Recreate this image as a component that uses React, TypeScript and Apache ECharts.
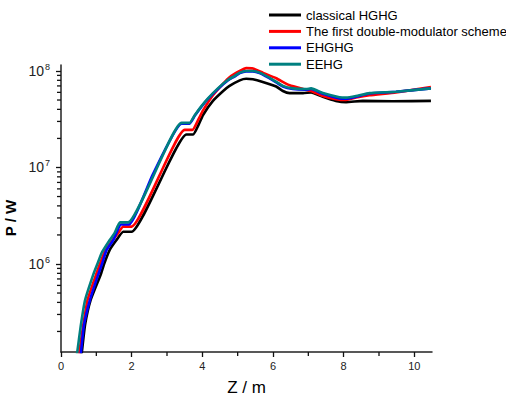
import React, { useEffect, useRef } from "react";
import * as echarts from "echarts";

// ---- data (z in m, P in W) ----
const seriesNames = [
  "classical HGHG",
  "The first double-modulator scheme",
  "EHGHG",
  "EEHG",
];
const seriesColors = ["#000000", "#ff0000", "#0000ff", "#008080"];

const hghg: [number, number][] = [
  [0.57, 1.1e5], [0.59, 1.22e5], [0.68, 2.33e5], [0.84, 4.24e5], [1.12, 7.7e5],
  [1.22, 1.0e6], [1.38, 1.4e6], [1.57, 1.77e6], [1.76, 2.16e6], [2.0, 2.16e6],
  [3.55, 2.2e7], [3.74, 2.2e7], [3.9, 2.8e7], [4.02, 3.5e7], [4.3, 4.9e7],
  [4.59, 6.2e7], [4.77, 7.0e7], [5.06, 8.0e7], [5.24, 8.3e7], [5.43, 8.2e7],
  [5.71, 7.7e7], [6.09, 6.9e7], [6.28, 6.2e7], [6.47, 5.9e7], [6.85, 5.9e7],
  [7.08, 6.0e7], [7.41, 5.4e7], [7.78, 4.9e7], [8.07, 4.75e7], [8.54, 4.9e7],
  [9.39, 4.85e7], [10.47, 4.9e7],
];

const doubleMod: [number, number][] = [
  [0.5, 1.1e5], [0.52, 1.22e5], [0.63, 2.33e5], [0.75, 4.24e5], [0.99, 7.7e5],
  [1.1, 1.0e6], [1.22, 1.3e6], [1.46, 1.77e6], [1.6, 2.05e6], [1.76, 2.44e6],
  [2.0, 2.44e6], [3.5, 2.45e7], [3.72, 2.45e7], [3.9, 3.2e7], [4.02, 3.9e7],
  [4.3, 5.6e7], [4.59, 7.4e7], [4.77, 8.6e7], [5.06, 1.0e8], [5.24, 1.07e8],
  [5.43, 1.06e8], [5.71, 9.6e7], [6.09, 8.4e7], [6.47, 7.1e7], [6.85, 6.5e7],
  [7.08, 6.2e7], [7.41, 5.5e7], [7.78, 5.1e7], [8.07, 5.0e7], [8.35, 5.3e7],
  [8.73, 5.6e7], [9.48, 6.0e7], [10.47, 6.8e7],
];

const ehghg: [number, number][] = [
  [0.54, 1.1e5], [0.565, 1.22e5], [0.65, 2.33e5], [0.82, 4.24e5], [1.05, 7.7e5],
  [1.16, 1.0e6], [1.29, 1.4e6], [1.48, 1.77e6], [1.7, 2.57e6], [1.93, 2.57e6],
  [2.6, 8.5e6], [3.41, 2.85e7], [3.64, 2.85e7], [3.79, 3.45e7], [3.97, 4.25e7],
  [4.16, 5.15e7], [4.44, 6.5e7], [4.73, 8.0e7], [4.92, 8.8e7], [5.06, 9.5e7],
  [5.24, 9.9e7], [5.43, 9.9e7], [5.62, 9.5e7], [6.0, 8.0e7], [6.28, 6.9e7],
  [6.56, 6.5e7], [6.94, 6.4e7], [7.08, 6.5e7], [7.41, 5.8e7], [7.88, 5.2e7],
  [8.07, 5.15e7], [8.35, 5.4e7], [8.73, 5.85e7], [9.48, 6.1e7], [10.47, 6.6e7],
];

const eehg: [number, number][] = [
  [0.44, 1.1e5], [0.46, 1.22e5], [0.56, 2.3e5], [0.68, 4.2e5], [0.91, 7.7e5],
  [1.03, 1.0e6], [1.15, 1.3e6], [1.38, 1.77e6], [1.52, 2.1e6], [1.67, 2.7e6],
  [1.9, 2.7e6], [3.41, 2.9e7], [3.64, 2.9e7], [3.79, 3.5e7], [3.97, 4.3e7],
  [4.16, 5.2e7], [4.44, 6.6e7], [4.73, 8.1e7], [4.92, 8.9e7], [5.06, 9.6e7],
  [5.24, 1.0e8], [5.43, 1.0e8], [5.62, 9.6e7], [6.0, 8.1e7], [6.28, 7.0e7],
  [6.56, 6.6e7], [6.94, 6.5e7], [7.08, 6.6e7], [7.41, 5.9e7], [7.88, 5.35e7],
  [8.07, 5.3e7], [8.35, 5.5e7], [8.73, 5.9e7], [9.48, 6.1e7], [10.47, 6.6e7],
];

const xMajorTicks = [0, 2, 4, 6, 8, 10];
const xMinorTicks = [1, 3, 5, 7, 9];
const yMajorTicks = [1e6, 1e7, 1e8];
const yMinorTicks = [
  2e5, 3e5, 4e5, 5e5, 6e5, 7e5, 8e5, 9e5,
  2e6, 3e6, 4e6, 5e6, 6e6, 7e6, 8e6, 9e6,
  2e7, 3e7, 4e7, 5e7, 6e7, 7e7, 8e7, 9e7,
];
const yMin = 1.225e5;
const yMax = 1.153e8;
const xMin = 0;
const xMax = 10.5;

const allData = [hghg, doubleMod, ehghg, eehg];
const FONT = "Liberation Sans, Arial, sans-serif";

export default function App() {
  const ref = useRef<HTMLDivElement>(null);
  useEffect(() => {
    if (!ref.current) return;
    const chart = echarts.init(ref.current, null, { renderer: "svg" });
    const axisLine = { show: true, lineStyle: { color: "#222", width: 1.5 } };
    const tickStyle = { stroke: "#111", lineWidth: 1.3 };
    const option: any = {
      animation: false,
      backgroundColor: "#ffffff",
      textStyle: { fontFamily: FONT },
      grid: {
        left: 61, right: 74, top: 65, bottom: 45,
        containLabel: false, outerBoundsMode: "none",
      },
      legend: {
        orient: "vertical",
        left: 269,
        top: 7,
        icon: "rect",
        itemWidth: 32,
        itemHeight: 3,
        itemGap: 0.4,
        padding: 0,
        textStyle: { fontSize: 13, lineHeight: 16, color: "#000", fontFamily: FONT },
        data: seriesNames,
      },
      xAxis: {
        type: "value", min: xMin, max: xMax, interval: 2,
        name: "Z / m", nameLocation: "middle", nameGap: 27,
        nameTextStyle: { fontSize: 17, color: "#000", fontFamily: FONT },
        axisLine,
        axisTick: { show: true, inside: false, length: 5, customValues: xMajorTicks, lineStyle: { color: "#111", width: 1.3 } },
        axisLabel: { customValues: xMajorTicks, fontSize: 11, color: "#222", margin: 8 },
        splitLine: { show: false },
      },
      yAxis: {
        type: "log", logBase: 10, min: yMin, max: yMax,
        name: "P / W", nameLocation: "middle", nameGap: 37,
        nameTextStyle: {
          fontSize: 15, fontWeight: "bold", color: "#000", fontFamily: FONT,
          padding: [0, 19, 0, 0],
        },
        axisLine,
        axisTick: { show: true, inside: false, length: 5, customValues: yMajorTicks, lineStyle: { color: "#111", width: 1.3 } },
        axisLabel: {
          customValues: yMajorTicks,
          margin: 11,
          formatter: (v: number) => `{a|10}{b|${Math.round(Math.log10(v))}}`,
          rich: {
            a: { fontSize: 14, color: "#222", fontFamily: FONT },
            b: { fontSize: 9, color: "#222", padding: [0, 0, 8, 1], fontFamily: FONT },
          },
        },
        splitLine: { show: false },
      },
      series: [
        ...seriesNames.map((name, i) => ({
          name,
          type: "line",
          data: allData[i],
          symbol: "none",
          smooth: 0.15,
          clip: true,
          lineStyle: { color: seriesColors[i], width: 2.6 },
          itemStyle: { color: seriesColors[i] },
          z: 2 + i,
        })),
        {
          name: "yMinorTicks",
          type: "custom",
          clip: false,
          silent: true,
          data: yMinorTicks.map((v) => [xMin, v]),
          renderItem: (_p: any, api: any) => {
            const pt = api.coord([api.value(0), api.value(1)]);
            return {
              type: "line",
              shape: { x1: pt[0] - 4, y1: pt[1], x2: pt[0], y2: pt[1] },
              style: tickStyle,
            };
          },
          z: 10,
        },
        {
          name: "xMinorTicks",
          type: "custom",
          clip: false,
          silent: true,
          data: xMinorTicks.map((v) => [v, yMin]),
          renderItem: (_p: any, api: any) => {
            const pt = api.coord([api.value(0), api.value(1)]);
            return {
              type: "line",
              shape: { x1: pt[0], y1: pt[1], x2: pt[0], y2: pt[1] + 4 },
              style: tickStyle,
            };
          },
          z: 10,
        },
      ],
    };
    chart.setOption(option);
    return () => chart.dispose();
  }, []);
  return (
    <div
      ref={ref}
      style={{ position: "fixed", left: 0, top: 0, width: 506, height: 397, background: "#fff" }}
    />
  );
}
